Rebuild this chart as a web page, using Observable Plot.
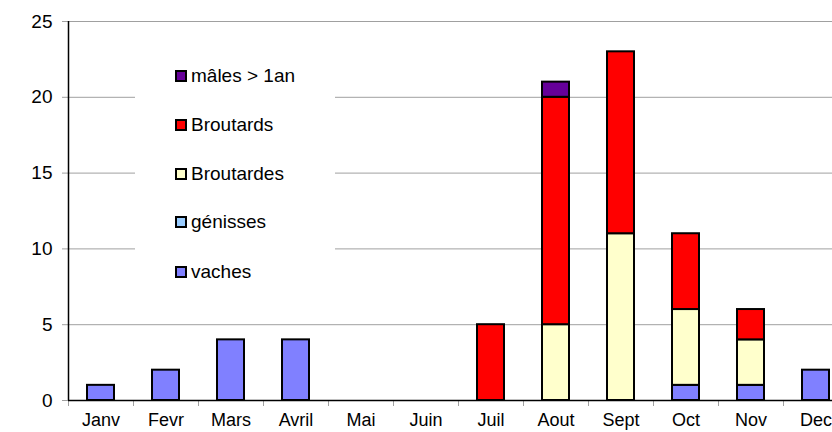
<!DOCTYPE html>
<html><head><meta charset="utf-8">
<script src="https://cdn.jsdelivr.net/npm/d3@7"></script>
<script src="https://cdn.jsdelivr.net/npm/@observablehq/plot@0.6"></script>
<style>
html,body{margin:0;padding:0;overflow:hidden;background:#fff;}
#wrap{position:relative;width:832px;height:432px;overflow:hidden;}
#chart svg{max-width:none !important;}
#legend{position:absolute;left:135px;top:40px;width:200px;height:270px;background:#fff;font-family:"Liberation Sans",Arial,sans-serif;font-size:19px;color:#000;}
.item{position:absolute;left:40px;height:20px;display:flex;align-items:center;white-space:nowrap;}
.sw{width:12px;height:12px;box-sizing:border-box;border:2px solid #000;margin-right:4px;}
</style>
</head><body>
<div id="wrap"><div id="chart"></div><div id="legend"></div></div>
<script>
const months = ["Janv","Fevr","Mars","Avril","Mai","Juin","Juil","Aout","Sept","Oct","Nov","Dec"];
const series = ["vaches","génisses","Broutardes","Broutards","mâles > 1an"];
const colors = ["#8080FF","#99CCFF","#FFFFCC","#FF0000","#660099"];
const vaches     = [1,2,4,4,0,0,0,0,0,1,1,2];
const genisses   = [0,0,0,0,0,0,0,0,0,0,0,0];
const broutardes = [0,0,0,0,0,0,0,5,11,5,3,0];
const broutards  = [0,0,0,0,0,0,5,15,12,5,2,0];
const males      = [0,0,0,0,0,0,0,1,0,0,0,0];
const yTicks = [0,5,10,15,20,25];

const valuesBySeries = [vaches, genisses, broutardes, broutards, males];
const data = [];
series.forEach((s, si) => months.forEach((m, mi) => {
  const v = valuesBySeries[si][mi];
  if (v > 0) data.push({month: m, series: s, value: v});
}));

const W = 848, ML = 68, MR = 0;
const halfStep = (W - ML - MR) / months.length / 2;
const font = '"Liberation Sans", Arial, sans-serif';

const chart = Plot.plot({
  width: W, height: 432,
  marginLeft: ML, marginRight: MR, marginTop: 21, marginBottom: 32,
  style: {fontFamily: font, fontSize: "19px", color: "#000", background: "#fff", maxWidth: "none"},
  x: {domain: months, paddingInner: 0.58, paddingOuter: 0.29, label: null},
  y: {domain: [0, 25], label: null},
  color: {domain: series, range: colors},
  marks: [
    Plot.ruleY(yTicks.filter(v => v > 0), {stroke: "#a0a0a0", strokeWidth: 1}),
    Plot.axisY({ticks: yTicks, tickSize: 6, tickPadding: 10, stroke: "#a0a0a0", fill: "#000", label: null, fontSize: 19}),
    Plot.axisX({tickSize: 0, tickPadding: 13, label: null, fill: "#000", fontSize: 18}),
    Plot.ruleX(months, {x: d => d, dx: -halfStep, y1: 0, y2: 0, insetBottom: -6, stroke: "#a0a0a0"}),
    Plot.barY(data, Plot.stackY({x: "month", y: "value", fill: "series", order: series, stroke: "#000", strokeWidth: 2})),
    Plot.ruleX([months[0]], {x: d => d, dx: -halfStep, y1: 0, y2: 25, stroke: "#000", strokeWidth: 1.5}),
    Plot.ruleY([0], {stroke: "#000", strokeWidth: 1.5})
  ]
});
chart.style.maxWidth = "none";
document.getElementById("chart").appendChild(chart);

const legend = document.getElementById("legend");
const rowTops = [26, 75, 124, 172, 222];
series.slice().reverse().forEach((s, i) => {
  const c = colors[series.indexOf(s)];
  const it = document.createElement("div");
  it.className = "item";
  it.style.top = rowTops[i] + "px";
  it.innerHTML = `<div class="sw" style="background:${c}"></div><span>${s}</span>`;
  legend.appendChild(it);
});
</script>
</body></html>
